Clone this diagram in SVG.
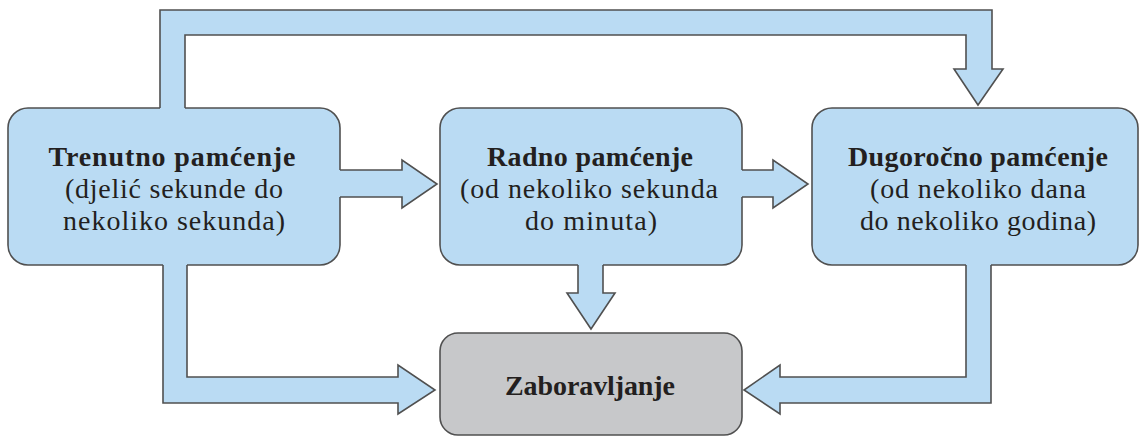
<svg xmlns="http://www.w3.org/2000/svg" width="1140" height="438" viewBox="0 0 1140 438">
<style>
.box{fill:#badbf3;stroke:#505050;stroke-width:1.6}
.gbox{fill:#c7c8ca;stroke:#505050;stroke-width:1.6}
.cf{fill:#badbf3;stroke:none}
.cs{fill:none;stroke:#505050;stroke-width:1.6;stroke-linejoin:miter}
text{font-family:"Liberation Serif","Times New Roman",serif;font-size:28px;fill:#231f20;text-anchor:middle}
.b{font-weight:bold}
</style>
<rect width="1140" height="438" fill="#ffffff"/>
<g id="n1">
<rect class="box" x="8" y="108" width="332" height="157" rx="20"/>
<text x="172" y="166" class="b" textLength="247">Trenutno pamćenje</text>
<text x="174" y="198" textLength="218">(djelić sekunde do</text>
<text x="174" y="230" textLength="222">nekoliko sekunda)</text>
</g>
<g id="n2">
<rect class="box" x="440" y="108" width="302" height="157" rx="20"/>
<text x="590" y="166" class="b" textLength="206">Radno pamćenje</text>
<text x="589" y="198" textLength="258">(od nekoliko sekunda</text>
<text x="591" y="230" textLength="132">do minuta)</text>
</g>
<g id="n3">
<rect class="box" x="812" y="108" width="326" height="157" rx="20"/>
<text x="978" y="166" class="b" textLength="260">Dugoročno pamćenje</text>
<text x="978" y="198" textLength="216">(od nekoliko dana</text>
<text x="978" y="230" textLength="236">do nekoliko godina)</text>
</g>
<g id="n4">
<rect class="gbox" x="440" y="333" width="302" height="102" rx="18"/>
<text x="590" y="395" class="b" textLength="170">Zaboravljanje</text>
</g>
<g id="connectors">
<path class="cf" d="M160,112 V10 H992 V69 H1003 L978,105 L954,69 H966 V35 H185 V112 Z"/>
<path class="cs" d="M160,108 V10 H992 V69 H1003 L978,105 L954,69 H966 V35 H185 V108"/>
<path class="cf" d="M336,170 H402 V160 L437,184 L402,208 V197 H336 Z"/>
<path class="cs" d="M340,170 H402 V160 L437,184 L402,208 V197 H340"/>
<path class="cf" d="M738,170 H773 V160 L808,184 L773,208 V197 H738 Z"/>
<path class="cs" d="M742,170 H773 V160 L808,184 L773,208 V197 H742"/>
<path class="cf" d="M578,261 V293 H567 L591,329 L615,293 H603 V261 Z"/>
<path class="cs" d="M578,265 V293 H567 L591,329 L615,293 H603 V265"/>
<path class="cf" d="M163,261 V403 H398 V414 L435,390 L398,365 V377 H187 V261 Z"/>
<path class="cs" d="M163,265 V403 H398 V414 L435,390 L398,365 V377 H187 V265"/>
<path class="cf" d="M991,261 V403 H780 V414 L744,390 L780,365 V377 H966 V261 Z"/>
<path class="cs" d="M991,265 V403 H780 V414 L744,390 L780,365 V377 H966 V265"/>
</g>
</svg>
